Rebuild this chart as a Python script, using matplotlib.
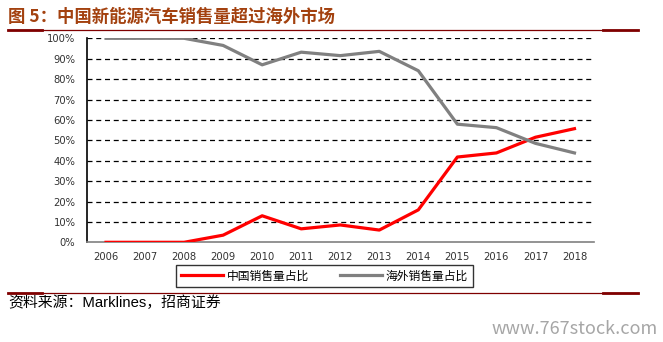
import matplotlib
matplotlib.use("Agg")
import matplotlib.pyplot as plt
from matplotlib.lines import Line2D
from matplotlib.ticker import PercentFormatter

plt.rcParams['font.family'] = ['Noto Sans CJK SC', 'DejaVu Sans']

# data
years = ['2006', '2007', '2008', '2009', '2010', '2011', '2012',
         '2013', '2014', '2015', '2016', '2017', '2018']
china_share = [0.0, 0.0, 0.0, 3.5, 13.0, 6.6, 8.5, 6.0, 15.9, 41.8, 43.8, 51.5, 55.7]
overseas_share = [100.0, 100.0, 100.0, 96.5, 87.0, 93.2, 91.5, 93.6, 84.1, 57.9, 56.2, 48.5, 43.8]
y_ticks = [i / 10 for i in range(11)]

W, H = 663, 342
fig = plt.figure(figsize=(W / 100, H / 100), dpi=100)

def px(x, y):
    # pixel (from top-left) -> figure fraction
    return x / W, 1 - y / H

# title
fig.text(*px(8, 17), '图 5：中国新能源汽车销售量超过海外市场', fontsize=12.5,
         fontweight='bold', color='#A3410F', va='center', ha='left')

# top / bottom rules
rule_c = '#7F0000'
for yy in (29.5, 293):
    fig.add_artist(Line2D([8 / W, 638 / W], [1 - yy / H] * 2, color=rule_c, lw=0.9))
    fig.add_artist(Line2D([8 / W, 42 / W], [1 - yy / H] * 2, color=rule_c, lw=2.0))
    fig.add_artist(Line2D([603 / W, 638 / W], [1 - yy / H] * 2, color=rule_c, lw=2.0))

# axes
l, r, t, b = 86.5, 594, 38.3, 242.3
ax = fig.add_axes([l / W, 1 - b / H, (r - l) / W, (b - t) / H])
x = range(len(years))
ax.plot(x, china_share, color='#FF0000', lw=2.3, label='中国销售量占比', zorder=3)
ax.plot(x, overseas_share, color='#808080', lw=2.3, label='海外销售量占比', zorder=3)

ax.set_xlim(-0.5, len(years) - 0.5)
ax.set_ylim(0, 100)
ax.set_yticks([v * 100 for v in y_ticks])
ax.yaxis.set_major_formatter(PercentFormatter(decimals=0))
ax.set_xticks(list(x))
ax.set_xticklabels(years)
ax.tick_params(length=0, labelsize=7.2, colors='#333333')
ax.tick_params(axis='y', pad=8)
ax.tick_params(axis='x', pad=7)
for lab in ax.get_xticklabels() + ax.get_yticklabels():
    lab.set_family('DejaVu Sans')

for yv in range(10, 101, 10):
    ax.axhline(yv, color='black', lw=0.9, ls=(0, (4, 3)), zorder=1)

for s in ('top', 'right'):
    ax.spines[s].set_visible(False)
ax.spines['left'].set_color('black')
ax.spines['left'].set_linewidth(1.2)
ax.spines['bottom'].set_color('#808080')
ax.spines['bottom'].set_linewidth(1.2)

leg = fig.legend(loc='center', bbox_to_anchor=px(324.5, 276), ncol=2,
                 fontsize=8.5, frameon=True, fancybox=False, edgecolor='black',
                 handlelength=3.6, handletextpad=0.3, columnspacing=2.6,
                 borderpad=0.4, borderaxespad=0)
leg.get_frame().set_linewidth(1.0)

# source
fig.text(*px(8, 303), '资料来源：Marklines，招商证券', fontsize=10.7,
         family=['Liberation Sans', 'Noto Sans CJK SC'],
         color='black', va='center', ha='left')

# watermark
fig.text(*px(658, 329), 'www.767stock.com', fontsize=13, color='#A6A6A6',
         va='center', ha='right')

fig.savefig('out.png', dpi=100)
